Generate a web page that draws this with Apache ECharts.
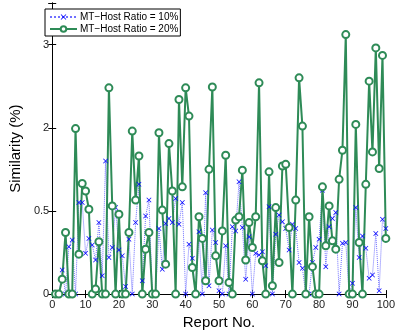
<!DOCTYPE html>
<html>
<head>
<meta charset="utf-8">
<script src="https://cdn.jsdelivr.net/npm/echarts@6/dist/echarts.min.js"></script>
<style>
  html, body { margin: 0; padding: 0; background: #fff; }
  #main { width: 398px; height: 335px; }
</style>
</head>
<body>
<div id="main"></div>
<script>
// report numbers 1..100
var reportNo = [];
for (var i = 1; i <= 100; i++) reportNo.push(i);

// MT-Host Ratio = 10% (blue, dotted)
var ratio10 = [
  0, 0, 0.29, 0, 0.57, 0.65, 0, 1.10, 1.10, 0.49,
  0.67, 0.59, 0.41, 0.86, 0.22, 1.60, 0.44, 0.56, 1.04, 0.53,
  0.46, 0.09, 0.66, 0, 0.86, 1.32, 0.16, 0.94, 1.13, 0,
  0, 0.79, 0.30, 0.85, 0.91, 0.86, 1.15, 0.84, 1.10, 0,
  0.60, 0.43, 0, 0.75, 0, 1.22, 0.10, 0.77, 0.62, 0.04,
  0, 0.58, 0, 0.81, 0.76, 1.35, 0.80, 0.18, 0.69, 0,
  0.49, 0.47, 0.51, 0.34, 1.05, 0, 0.72, 0.95, 0.87, 0.79,
  0.53, 0.84, 0.79, 0.38, 0.31, 0, 0, 0.38, 0.56, 0.66,
  1.25, 0.33, 0.81, 0.91, 0.98, 0, 0.61, 0.62, 0, 0.13,
  1.04, 0.44, 0.70, 0.55, 0.19, 0.23, 0.73, 0.04, 0.90, 0.79
];

// MT-Host Ratio = 20% (green, solid)
var ratio20 = [
  0, 0, 0.18, 0.74, 0, 0, 1.99, 0.48, 1.33, 1.24,
  1.02, 0, 0.06, 0.63, 0, 0, 2.48, 1.06, 0, 0.96,
  0, 0, 0.74, 1.96, 1.13, 1.66, 0, 0.54, 0.74, 0,
  0, 1.94, 1.01, 0.36, 1.81, 1.24, 0, 2.34, 1.29, 2.48,
  2.14, 0.32, 0, 0.93, 0.67, 0.16, 1.50, 2.49, 0.46, 0.16,
  0.76, 1.67, 0.14, 0, 0.89, 0.93, 1.49, 0.41, 0.86, 0.56,
  0.93, 2.54, 0.40, 0, 1.47, 0.10, 1.04, 0.38, 1.54, 1.56,
  0.80, 0, 1.13, 2.60, 2.02, 0, 0.93, 0.33, 0, 0,
  1.29, 0.58, 1.06, 0.64, 0.54, 1.38, 1.73, 3.12, 0, 0,
  2.04, 0.62, 0, 1.32, 2.56, 1.71, 2.96, 1.51, 2.87, 0.67
];

var seriesNames = ['MT\u2212Host Ratio = 10%', 'MT\u2212Host Ratio = 20%'];

// y tick positions and the labels printed at them
var yTickValues = [0, 1, 2, 3];
var yTickLabels = ['0', '0.5', '2', '3'];

var font = 'Liberation Sans, Arial, Helvetica, sans-serif';
var xMark = 'path://M0,1L1,0L5,4L9,0L10,1L6,5L10,9L9,10L5,6L1,10L0,9L4,5Z';

function pairs(vals) {
  return vals.map(function (v, k) { return [reportNo[k], v]; });
}

var myChart = echarts.init(document.getElementById('main'));

var frameAxis = {
  axisLine: { show: true, lineStyle: { color: '#000', width: 1 } },
  axisTick: { show: true, inside: true, length: 4, lineStyle: { color: '#000' } },
  splitLine: { show: false }
};

var option = {
  animation: false,
  textStyle: { fontFamily: font },
  grid: { left: 42, right: 5, top: 3, bottom: 35, containLabel: false },
  legend: {
    left: 45,
    top: 9,
    orient: 'vertical',
    data: seriesNames,
    itemGap: 2,
    itemWidth: 27,
    itemHeight: 7,
    padding: [3, 2, 2, 4],
    borderColor: '#000',
    borderWidth: 1,
    borderRadius: 0,
    backgroundColor: '#fff',
    textStyle: { fontSize: 10, color: '#000', fontFamily: font, padding: [0, 0, 0, -2] }
  },
  xAxis: [
    Object.assign({
      type: 'value', min: 0, max: 100, interval: 10, position: 'bottom',
      name: 'Report No.', nameLocation: 'middle', nameGap: 18,
      nameTextStyle: { fontSize: 15, color: '#000', fontFamily: font },
      axisLabel: { fontSize: 11, color: '#222', margin: 5, fontFamily: font }
    }, frameAxis),
    Object.assign({
      type: 'value', min: 0, max: 100, interval: 10, position: 'top',
      axisLabel: { show: false }
    }, frameAxis)
  ],
  yAxis: [
    Object.assign({
      type: 'value', min: 0, max: 3.5, interval: 1, position: 'left',
      name: 'Similarity (%)', nameLocation: 'middle', nameGap: 24,
      nameTextStyle: { fontSize: 15, color: '#000', fontFamily: font },
      axisLabel: {
        fontSize: 11, color: '#222', margin: 3, fontFamily: font,
        formatter: function (v) {
          var k = yTickValues.indexOf(v);
          return k >= 0 ? yTickLabels[k] : '';
        }
      }
    }, frameAxis),
    Object.assign({
      type: 'value', min: 0, max: 3.5, interval: 1, position: 'right',
      axisLabel: { show: false }
    }, frameAxis)
  ],
  series: [
    {
      name: seriesNames[0],
      type: 'line',
      data: pairs(ratio10),
      showAllSymbol: true,
      symbol: xMark,
      symbolSize: 5,
      itemStyle: { color: '#0000ff' },
      lineStyle: { color: '#7070ff', width: 1, type: 'dotted' }
    },
    {
      name: seriesNames[1],
      type: 'line',
      data: pairs(ratio20),
      showAllSymbol: true,
      symbol: 'emptyCircle',
      symbolSize: 7,
      itemStyle: { color: '#2e8b57', borderWidth: 1.5 },
      lineStyle: { color: '#2e8b57', width: 2 }
    }
  ]
};

myChart.setOption(option);
</script>
</body>
</html>
